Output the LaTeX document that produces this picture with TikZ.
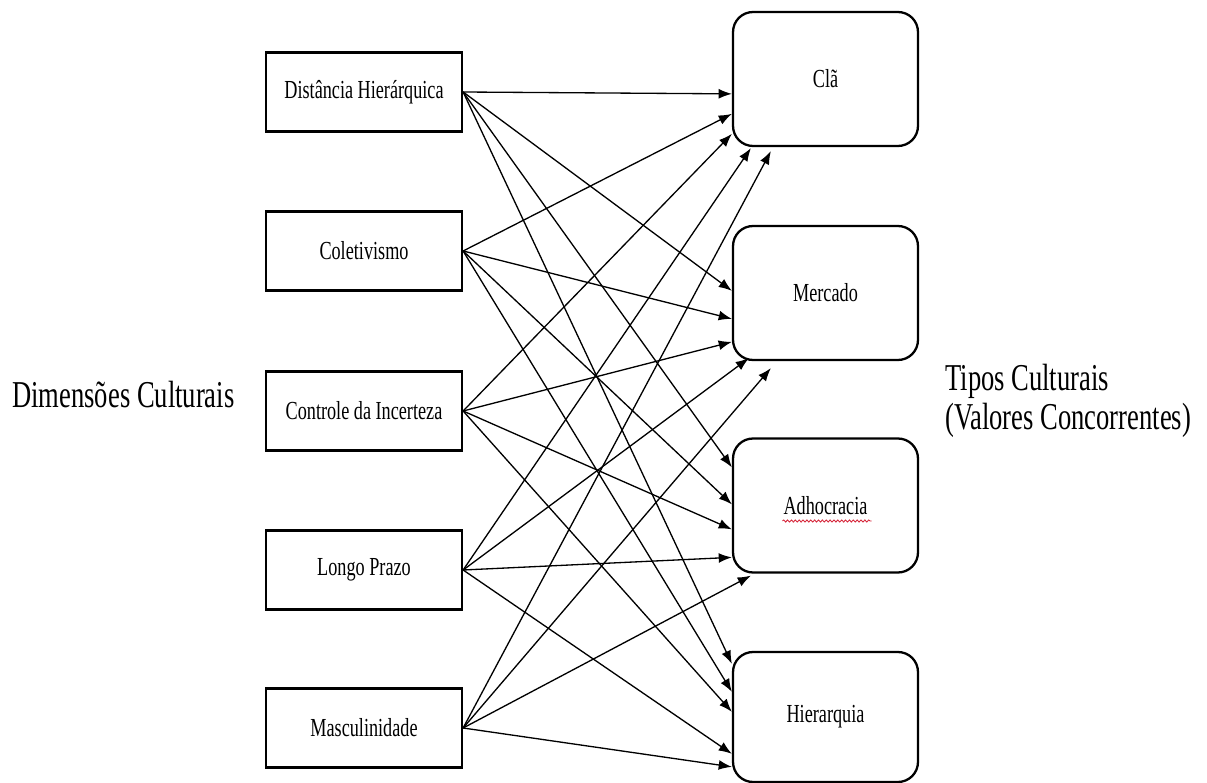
\documentclass[tikz,border=0pt]{standalone}
\usepackage{fontspec}
\setmainfont{Liberation Serif}[FakeStretch=0.7]
\usepackage{xcolor}
\usetikzlibrary{arrows.meta}
\usetikzlibrary{calc, math}
\usetikzlibrary{decorations.pathmorphing}
\definecolor{spellred}{RGB}{214, 40, 60}

\tikzset{
  dimbox/.style={draw, line width=1.3pt, minimum width=3.92cm, minimum height=1.58cm, inner sep=0pt, font=\fontsize{14.8}{17}\selectfont},
  tipobox/.style={draw, line width=1.3pt, rounded corners=0.4cm, minimum width=3.7cm, minimum height=2.68cm, inner sep=0pt, font=\fontsize{14.8}{17}\selectfont},
  bigtext/.style={inner sep=0pt, font=\fontsize{21.6}{22.2}\selectfont},
  link/.style={line width=0.75pt, -{Latex[length=7.5pt, width=5.6pt]}}
}

\begin{document}
\begin{tikzpicture}[x=0.02cm, y=-0.02cm]
\useasboundingbox (0,0) rectangle (1207,783);

%%%%%%%%%% dimensions
\node[dimbox] (dist) at (364,92) {Distância Hierárquica};
\node[dimbox] (colet) at (364,251) {Coletivismo};
\node[dimbox] (incert) at (364,411) {Controle da Incerteza};
\node[dimbox] (prazo) at (364,570) {Longo Prazo};
\node[dimbox] (mascul) at (364,728) {Masculinidade};

%%%%%%%%%% cultural types
\node[tipobox] (cla) at (825.5,79) {Clã};
\node[tipobox] (mercado) at (825.5,293) {Mercado};
\node[tipobox] (adhoc) at (825.5,505.5) {Adhocracia};
\node[tipobox, minimum height=2.6cm] (hierarq) at (825.5,717) {Hierarquia};
\draw[spellred, line width=0.5pt, decorate, decoration={snake, amplitude=0.6pt, segment length=2.2pt}] ($(adhoc.center)+(-43,15.5)$) -- ($(adhoc.center)+(46,15.5)$);

%%%%%%%%%% titles
\node[bigtext, anchor=base west] (dimtitle) at (12,408) {Dimensões Culturais};
\node[bigtext, anchor=north west, align=left] (tipotitle) at (945,364) {Tipos Culturais\\(Valores Concorrentes)};

%%%%%%%%%% to Cla
\draw[link] (dist.east) -- ($(cla.north west)+(0,83)$);
\draw[link] (colet.east) -- ($(cla.north west)+(0,103)$);
\draw[link] (incert.east) -- ($(cla.north west)+(0,123)$);
\draw[link] (prazo.east) -- ($(cla.south west)+(19,1)$);
\draw[link] (mascul.east) -- ($(cla.south west)+(39,4)$);

%%%%%%%%%% to Mercado
\draw[link] (dist.east) -- ($(mercado.north west)+(0,66)$);
\draw[link] (colet.east) -- ($(mercado.north west)+(0,94)$);
\draw[link] (incert.east) -- ($(mercado.north west)+(0,117)$);
\draw[link] (prazo.east) -- ($(mercado.south west)+(17,-3)$);
\draw[link] (mascul.east) -- ($(mercado.south west)+(39,7)$);

%%%%%%%%%% to Adhocracia
\draw[link] (dist.east) -- ($(adhoc.north west)+(0,30)$);
\draw[link] (colet.east) -- ($(adhoc.north west)+(0,67)$);
\draw[link] (incert.east) -- ($(adhoc.north west)+(0,92)$);
\draw[link] (prazo.east) -- ($(adhoc.north west)+(0,120)$);
\draw[link] (mascul.east) -- ($(adhoc.south west)+(19,2)$);

%%%%%%%%%% to Hierarquia
\draw[link] (dist.east) -- ($(hierarq.north west)+(0,13)$);
\draw[link] (colet.east) -- ($(hierarq.north west)+(0,41)$);
\draw[link] (incert.east) -- ($(hierarq.north west)+(0,61)$);
\draw[link] (prazo.east) -- ($(hierarq.north west)+(0,103)$);
\draw[link] (mascul.east) -- ($(hierarq.north west)+(0,116)$);
\end{tikzpicture}
\end{document}
